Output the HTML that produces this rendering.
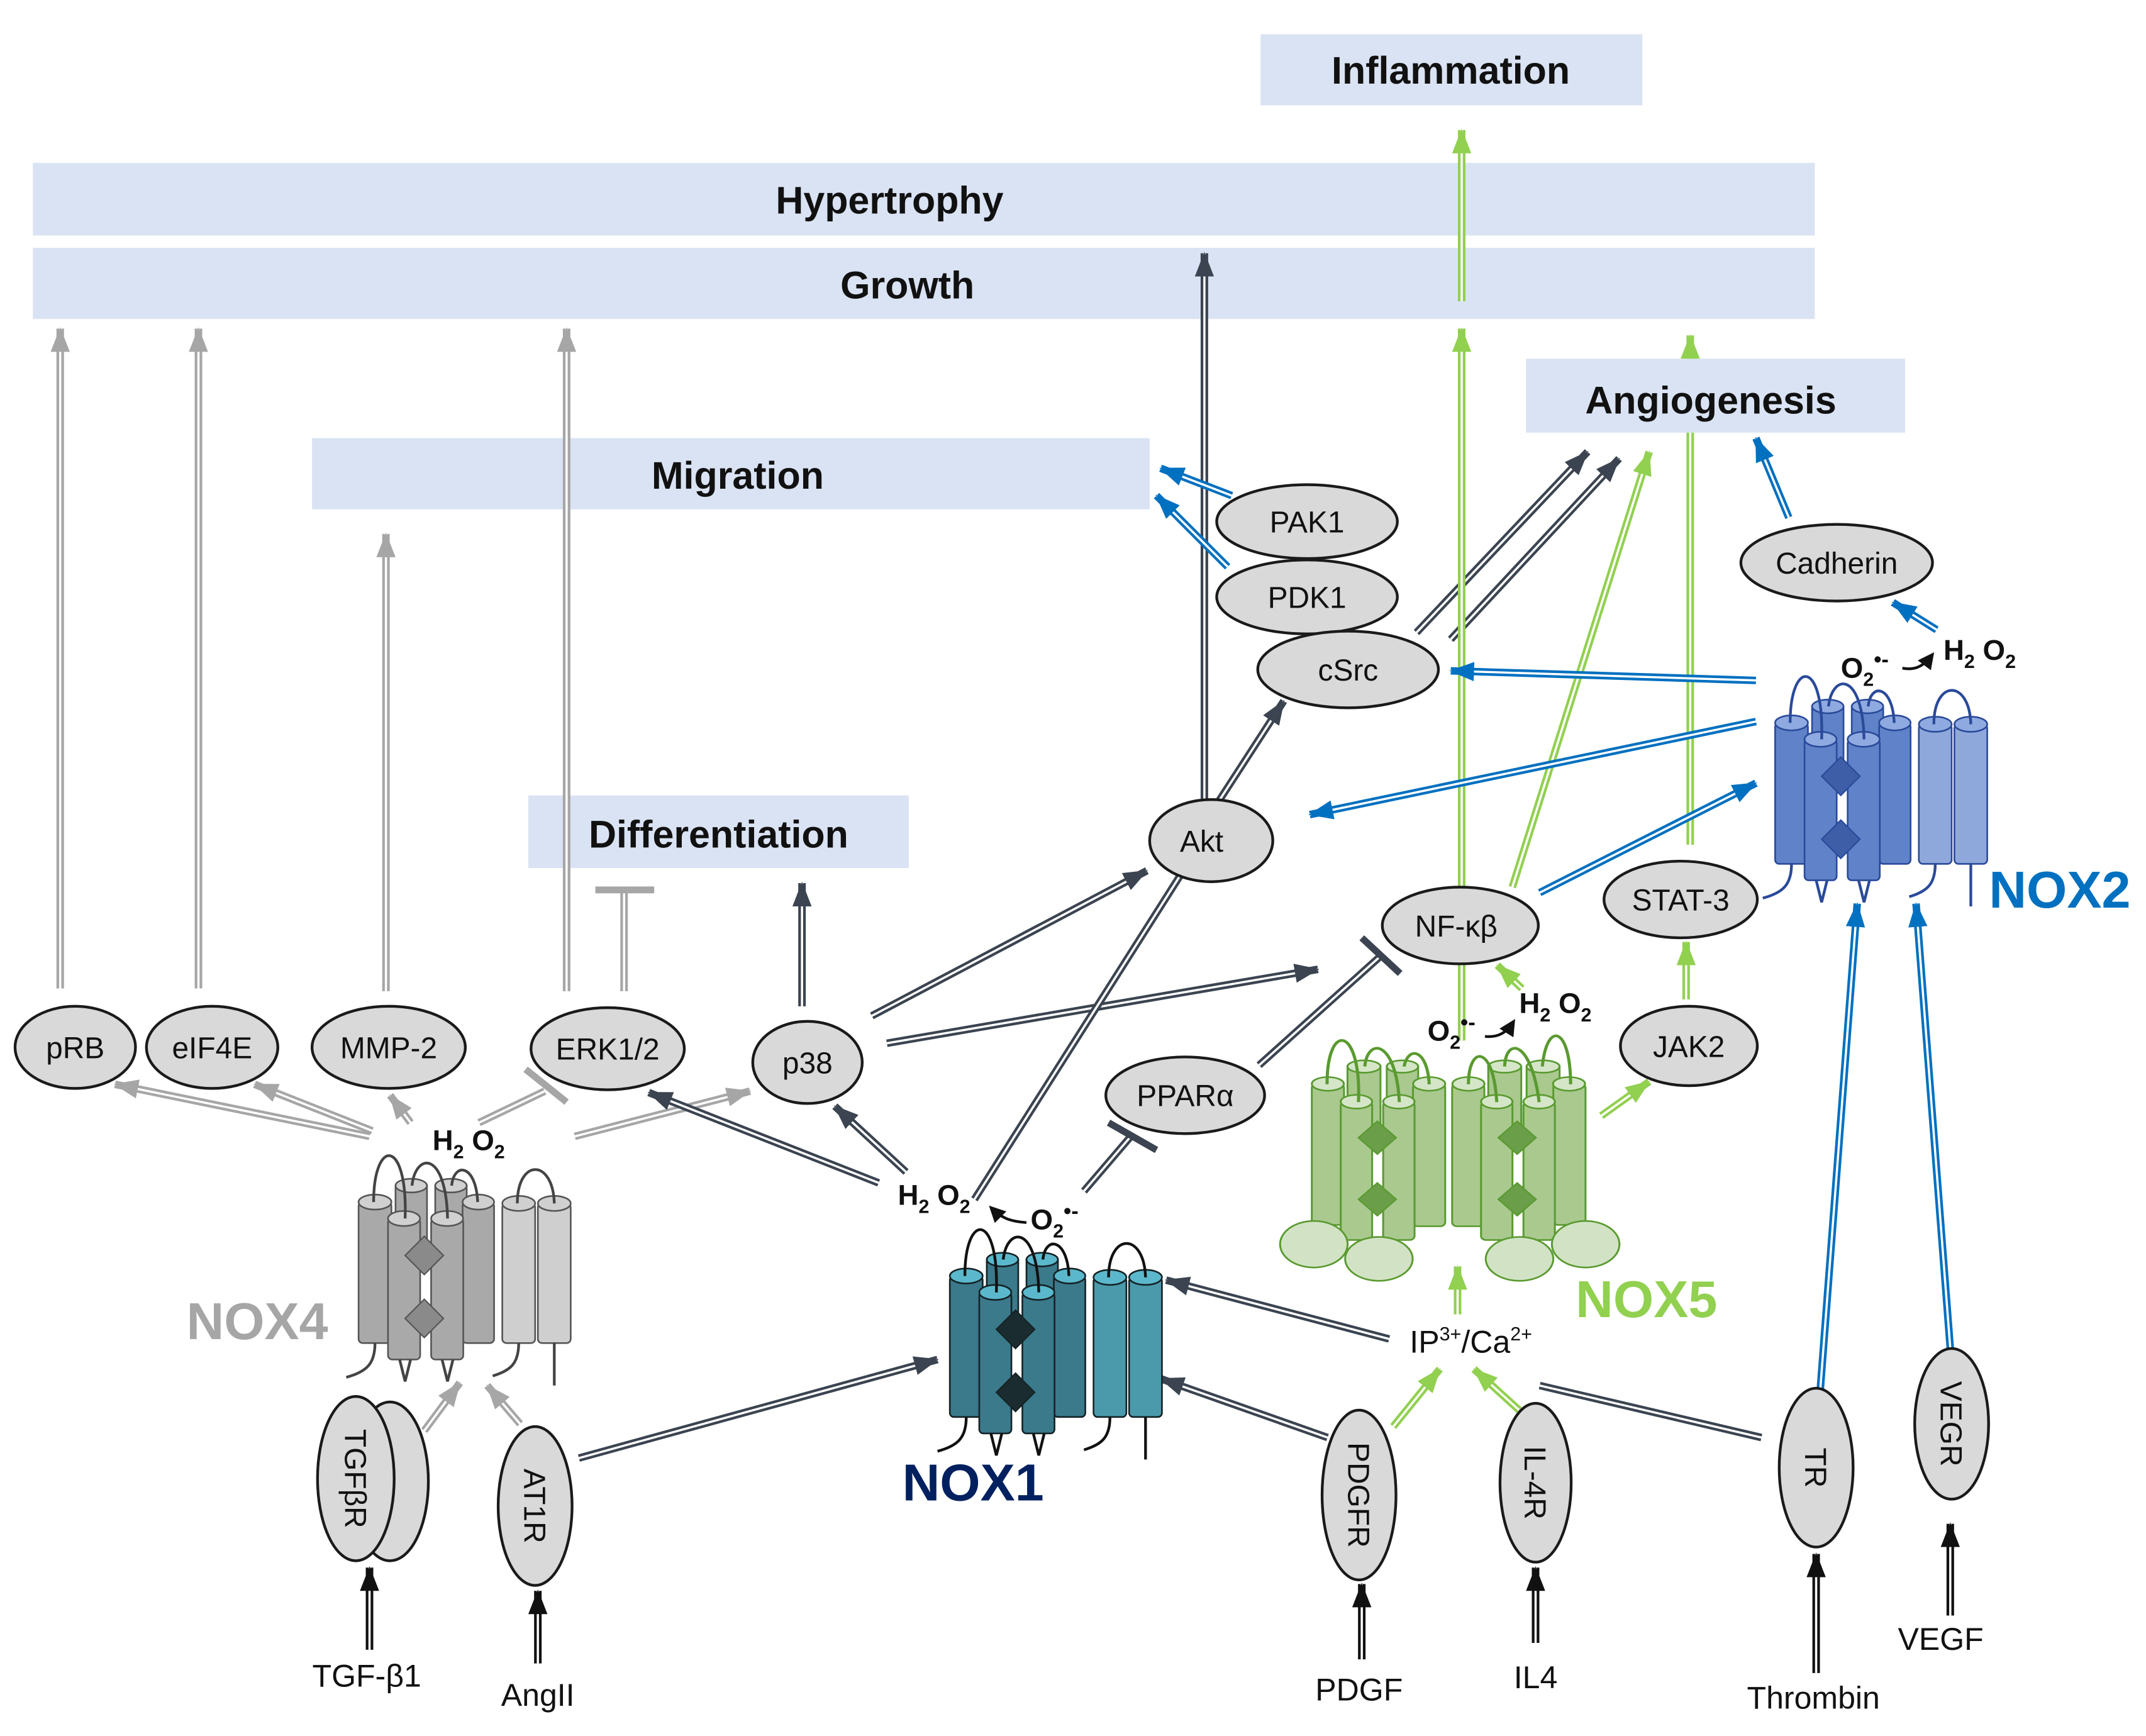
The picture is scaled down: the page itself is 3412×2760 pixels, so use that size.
<!DOCTYPE html>
<html><head><meta charset="utf-8"><style>
html,body{margin:0;padding:0;background:#fff}
svg{display:block}
text{font-family:"Liberation Sans",sans-serif}
.box{fill:#dae3f3}
.bt{font-weight:bold;font-size:28px;text-anchor:middle;fill:#111}
.el{fill:#d9d9d9;stroke:#1a1a1a;stroke-width:2}
.et{font-size:22px;text-anchor:middle;fill:#111}
.w{stroke:#fff;stroke-width:1.6;fill:none}
.gO{stroke:#a6a6a6;stroke-width:5.5;fill:none}
.dO{stroke:#3b4450;stroke-width:5.5;fill:none}
.nO{stroke:#92d050;stroke-width:5.5;fill:none}
.bO{stroke:#0070c0;stroke-width:5.5;fill:none}
.kO{stroke:#111;stroke-width:5.5;fill:none}
.lt{font-size:23px;text-anchor:middle;fill:#111}
.sm{font-size:21px;font-weight:bold;fill:#111}
.n4{--b:#a9a9a9;--b2:#cfcfcf;--t:#d0d0d0;--s:#555;--d:#8a8a8a;--l:#444}
.n1{--b:#3a7a8a;--b2:#4a9aab;--t:#5bb8cc;--s:#152226;--d:#1b2c31;--l:#111}
.n2{--b:#5f82c8;--b2:#8fa8dc;--t:#8faae0;--s:#2a4a9a;--d:#3e5fa8;--l:#2a4a9a}
.n5 rect,.n5 ellipse{fill:#a9c98f;stroke:#5a9a30;stroke-width:1.2}
.n5 .top{fill:#d5e6c8}
.n5 .bl{fill:#d2e3c5}
.n5 .dia{fill:#6a9e48;stroke:#5a9a30}
.n5 .loop{fill:none;stroke:#5a9a30;stroke-width:2}
</style></head><body>
<svg width="3412" height="2760" viewBox="0 0 1568 1268" preserveAspectRatio="none" xmlns="http://www.w3.org/2000/svg">
<defs>
<marker id="mg" markerUnits="userSpaceOnUse" markerWidth="18" markerHeight="16" refX="17" refY="8" orient="auto"><path d="M0,1 L18,8 L0,15 z" fill="#a6a6a6"/></marker>
<marker id="md" markerUnits="userSpaceOnUse" markerWidth="18" markerHeight="16" refX="17" refY="8" orient="auto"><path d="M0,1 L18,8 L0,15 z" fill="#3b4450"/></marker>
<marker id="mn" markerUnits="userSpaceOnUse" markerWidth="18" markerHeight="16" refX="17" refY="8" orient="auto"><path d="M0,1 L18,8 L0,15 z" fill="#92d050"/></marker>
<marker id="mb" markerUnits="userSpaceOnUse" markerWidth="18" markerHeight="16" refX="17" refY="8" orient="auto"><path d="M0,1 L18,8 L0,15 z" fill="#0070c0"/></marker>
<marker id="mk" markerUnits="userSpaceOnUse" markerWidth="18" markerHeight="16" refX="17" refY="8" orient="auto"><path d="M0,1 L18,8 L0,15 z" fill="#111"/></marker>
<marker id="mc" markerUnits="userSpaceOnUse" markerWidth="12" markerHeight="12" refX="10" refY="6" orient="auto"><path d="M0,0 L12,6 L0,12 z" fill="#111"/></marker>

<g id="noxbody">
  <g style="fill:var(--b);stroke:var(--s);stroke-width:1.2">
  <rect x="41" y="70" width="23" height="50"/><ellipse cx="52.5" cy="70" rx="11.5" ry="5" style="fill:var(--t)"/>
  <rect x="70" y="70" width="23" height="50"/><ellipse cx="81.5" cy="70" rx="11.5" ry="5" style="fill:var(--t)"/>
  <rect x="14" y="82" width="24" height="103" rx="3"/><ellipse cx="26" cy="82" rx="12" ry="5.5" style="fill:var(--t)"/>
  <rect x="90" y="82" width="23" height="103" rx="3"/><ellipse cx="101.5" cy="82" rx="11.5" ry="5.5" style="fill:var(--t)"/>
  <rect x="119" y="83" width="24" height="102" rx="3" style="fill:var(--b2)"/><ellipse cx="131" cy="83" rx="12" ry="5.5" style="fill:var(--t)"/>
  <rect x="145" y="83" width="24" height="102" rx="3" style="fill:var(--b2)"/><ellipse cx="157" cy="83" rx="12" ry="5.5" style="fill:var(--t)"/>
  <rect x="35.5" y="94" width="23.5" height="103" rx="3"/><ellipse cx="47.2" cy="94" rx="11.7" ry="5.5" style="fill:var(--t)"/>
  <rect x="67" y="94" width="23.5" height="103" rx="3"/><ellipse cx="78.7" cy="94" rx="11.7" ry="5.5" style="fill:var(--t)"/>
  </g>
  <path style="fill:var(--d);stroke:var(--s)" d="M62,107 L76,121 L62,135 L48,121 z M62,153 L76,167 L62,181 L48,167 z"/>
  <path style="fill:none;stroke:var(--l);stroke-width:2" d="M25,82 C25,35 50,35 48,94 M53,70 C56,45 78,45 79,94 M82,70 C84,52 100,55 101,82 M130,83 C130,50 156,50 157,83 M26,185 C26,200 20,206 5,210 M44,197 L48,213 L52,197 M75,197 L79,213 L83,197 M131,185 C131,200 125,205 112,209 M157,185 L157,216"/>
</g>
</defs>

<rect class="box" x="921" y="25" width="279" height="52"/>
<text class="bt" x="1060" y="61">Inflammation</text>
<rect class="box" x="24" y="119" width="1302" height="53"/>
<text class="bt" x="650" y="156">Hypertrophy</text>
<rect class="box" x="24" y="181" width="1302" height="52"/>
<text class="bt" x="663" y="218">Growth</text>
<rect class="box" x="228" y="320" width="612" height="52"/>
<text class="bt" x="539" y="357">Migration</text>
<rect class="box" x="1115" y="262" width="277" height="54"/>
<text class="bt" x="1250" y="302">Angiogenesis</text>
<rect class="box" x="386" y="581" width="278" height="53"/>
<text class="bt" x="525" y="619">Differentiation</text>

<path class="gO" d="M44,722 L44,240"/><path class="w" marker-end="url(#mg)" d="M44,722 L44,240"/>
<path class="gO" d="M145,722 L145,240"/><path class="w" marker-end="url(#mg)" d="M145,722 L145,240"/>
<path class="gO" d="M282,724 L282,390"/><path class="w" marker-end="url(#mg)" d="M282,724 L282,390"/>
<path class="gO" d="M414,724 L414,240"/><path class="w" marker-end="url(#mg)" d="M414,724 L414,240"/>
<path class="gO" d="M456,724 L456,652"/><path class="w" d="M456,724 L456,652"/>
<path d="M435,650 L478,650" stroke="#a6a6a6" stroke-width="5"/>
<path class="gO" d="M270,830 L84,792"/><path class="w" marker-end="url(#mg)" d="M270,830 L84,792"/>
<path class="gO" d="M272,826 L186,792"/><path class="w" marker-end="url(#mg)" d="M272,826 L186,792"/>
<path class="gO" d="M300,820 L285,800"/><path class="w" marker-end="url(#mg)" d="M300,820 L285,800"/>
<path class="gO" d="M350,820 L398,797"/><path class="w" d="M350,820 L398,797"/>
<path d="M384,781 L414,805" stroke="#a6a6a6" stroke-width="5"/>
<path class="gO" d="M420,830 L548,797"/><path class="w" marker-end="url(#mg)" d="M420,830 L548,797"/>
<path class="gO" d="M310,1045 L336,1010"/><path class="w" marker-end="url(#mg)" d="M310,1045 L336,1010"/>
<path class="gO" d="M380,1040 L356,1012"/><path class="w" marker-end="url(#mg)" d="M380,1040 L356,1012"/>

<path class="dO" d="M642,864 L474,798"/><path class="w" marker-end="url(#md)" d="M642,864 L474,798"/>
<path class="dO" d="M662,856 L610,808"/><path class="w" marker-end="url(#md)" d="M662,856 L610,808"/>
<path class="dO" d="M586,735 L586,645"/><path class="w" marker-end="url(#md)" d="M586,735 L586,645"/>
<path class="dO" d="M637,742 L838,636"/><path class="w" marker-end="url(#md)" d="M637,742 L838,636"/>
<path class="dO" d="M648,762 L963,708"/><path class="w" marker-end="url(#md)" d="M648,762 L963,708"/>
<path class="dO" d="M712,876 L862,640"/><path class="w" d="M712,876 L862,640"/>
<path class="dO" d="M890,586 L938,512"/><path class="w" marker-end="url(#md)" d="M890,586 L938,512"/>
<path class="dO" d="M880,586 L880,185"/><path class="w" marker-end="url(#md)" d="M880,586 L880,185"/>
<path class="dO" d="M792,870 L828,828"/><path class="w" d="M792,870 L828,828"/>
<path d="M810,820 L845,840" stroke="#3b4450" stroke-width="5"/>
<path class="dO" d="M920,778 L1008,699"/><path class="w" d="M920,778 L1008,699"/>
<path d="M995,685 L1023,711" stroke="#3b4450" stroke-width="5"/>
<path class="dO" d="M1035,462 L1160,330"/><path class="w" marker-end="url(#md)" d="M1035,462 L1160,330"/>
<path class="dO" d="M1060,467 L1183,335"/><path class="w" marker-end="url(#md)" d="M1060,467 L1183,335"/>
<path class="dO" d="M1015,978 L852,935"/><path class="w" marker-end="url(#md)" d="M1015,978 L852,935"/>
<path class="dO" d="M970,1050 L848,1007"/><path class="w" marker-end="url(#md)" d="M970,1050 L848,1007"/>
<path class="dO" d="M423,1065 L685,993"/><path class="w" marker-end="url(#md)" d="M423,1065 L685,993"/>
<path class="dO" d="M1287,1050 L1125,1012"/><path class="w" d="M1287,1050 L1125,1012"/>

<path class="nO" d="M1068,220 L1068,95"/><path class="w" marker-end="url(#mn)" d="M1068,220 L1068,95"/>
<path class="nO" d="M1068,760 L1068,240"/><path class="w" marker-end="url(#mn)" d="M1068,760 L1068,240"/>
<path class="nO" d="M1235,617 L1235,316"/><path class="w" d="M1235,617 L1235,316"/>
<path class="nO" d="M1235,262 L1235,245"/><path class="w" marker-end="url(#mn)" d="M1235,262 L1235,245"/>
<path class="nO" d="M1105,648 L1205,330"/><path class="w" marker-end="url(#mn)" d="M1105,648 L1205,330"/>
<path class="nO" d="M1112,722 L1094,705"/><path class="w" marker-end="url(#mn)" d="M1112,722 L1094,705"/>
<path class="nO" d="M1232,730 L1232,688"/><path class="w" marker-end="url(#mn)" d="M1232,730 L1232,688"/>
<path class="nO" d="M1170,815 L1205,790"/><path class="w" marker-end="url(#mn)" d="M1170,815 L1205,790"/>
<path class="nO" d="M1065,960 L1065,925"/><path class="w" marker-end="url(#mn)" d="M1065,960 L1065,925"/>
<path class="nO" d="M1018,1042 L1052,1000"/><path class="w" marker-end="url(#mn)" d="M1018,1042 L1052,1000"/>
<path class="nO" d="M1110,1030 L1077,1000"/><path class="w" marker-end="url(#mn)" d="M1110,1030 L1077,1000"/>

<path class="bO" d="M900,362 L848,342"/><path class="w" marker-end="url(#mb)" d="M900,362 L848,342"/>
<path class="bO" d="M897,414 L845,362"/><path class="w" marker-end="url(#mb)" d="M897,414 L845,362"/>
<path class="bO" d="M1283,497 L1060,490"/><path class="w" marker-end="url(#mb)" d="M1283,497 L1060,490"/>
<path class="bO" d="M1283,527 L957,595"/><path class="w" marker-end="url(#mb)" d="M1283,527 L957,595"/>
<path class="bO" d="M1125,652 L1283,572"/><path class="w" marker-end="url(#mb)" d="M1125,652 L1283,572"/>
<path class="bO" d="M1307,378 L1283,320"/><path class="w" marker-end="url(#mb)" d="M1307,378 L1283,320"/>
<path class="bO" d="M1415,460 L1383,440"/><path class="w" marker-end="url(#mb)" d="M1415,460 L1383,440"/>
<path class="bO" d="M1330,1015 L1357,660"/><path class="w" marker-end="url(#mb)" d="M1330,1015 L1357,660"/>
<path class="bO" d="M1425,985 L1400,660"/><path class="w" marker-end="url(#mb)" d="M1425,985 L1400,660"/>

<path class="kO" d="M270,1205 L270,1145"/><path class="w" marker-end="url(#mk)" d="M270,1205 L270,1145"/>
<path class="kO" d="M393,1215 L393,1162"/><path class="w" marker-end="url(#mk)" d="M393,1215 L393,1162"/>
<path class="kO" d="M995,1212 L995,1157"/><path class="w" marker-end="url(#mk)" d="M995,1212 L995,1157"/>
<path class="kO" d="M1122,1200 L1122,1145"/><path class="w" marker-end="url(#mk)" d="M1122,1200 L1122,1145"/>
<path class="kO" d="M1327,1222 L1327,1135"/><path class="w" marker-end="url(#mk)" d="M1327,1222 L1327,1135"/>
<path class="kO" d="M1425,1180 L1425,1113"/><path class="w" marker-end="url(#mk)" d="M1425,1180 L1425,1113"/>

<ellipse class="el" cx="55" cy="765" rx="44" ry="30"/><text class="et" x="55" y="773">pRB</text>
<ellipse class="el" cx="155" cy="765" rx="48" ry="30"/><text class="et" x="155" y="773">eIF4E</text>
<ellipse class="el" cx="284" cy="765" rx="56" ry="30"/><text class="et" x="284" y="773">MMP-2</text>
<ellipse class="el" cx="444" cy="766" rx="56" ry="30"/><text class="et" x="444" y="774">ERK1/2</text>
<ellipse class="el" cx="590" cy="776" rx="40" ry="30"/><text class="et" x="590" y="784">p38</text>
<ellipse class="el" cx="866" cy="800" rx="58" ry="28"/><text class="et" x="866" y="808">PPARα</text>
<ellipse class="el" cx="885" cy="614" rx="45" ry="30"/><text class="et" x="878" y="622">Akt</text>
<ellipse class="el" cx="955" cy="381" rx="66" ry="27"/><text class="et" x="955" y="389">PAK1</text>
<ellipse class="el" cx="955" cy="436" rx="66" ry="27"/><text class="et" x="955" y="444">PDK1</text>
<ellipse class="el" cx="985" cy="489" rx="66" ry="28"/><text class="et" x="985" y="497">cSrc</text>
<ellipse class="el" cx="1067" cy="676" rx="57" ry="28"/><text class="et" x="1064" y="684">NF-κβ</text>
<ellipse class="el" cx="1228" cy="657" rx="56" ry="28"/><text class="et" x="1228" y="665">STAT-3</text>
<ellipse class="el" cx="1234" cy="764" rx="50" ry="29"/><text class="et" x="1234" y="772">JAK2</text>
<ellipse class="el" cx="1342" cy="411" rx="70" ry="28"/><text class="et" x="1342" y="419">Cadherin</text>

<ellipse class="el" cx="285" cy="1082" rx="28" ry="58"/>
<ellipse class="el" cx="260" cy="1080" rx="28" ry="60"/>
<text class="et" transform="translate(252,1080) rotate(90)">TGFβR</text>
<ellipse class="el" cx="391" cy="1100" rx="27" ry="58"/>
<text class="et" transform="translate(383,1100) rotate(90)">AT1R</text>
<ellipse class="el" cx="993" cy="1092" rx="27" ry="62"/>
<text class="et" transform="translate(985,1092) rotate(90)">PDGFR</text>
<ellipse class="el" cx="1122" cy="1083" rx="26" ry="58"/>
<text class="et" transform="translate(1114,1083) rotate(90)">IL-4R</text>
<ellipse class="el" cx="1327" cy="1072" rx="27" ry="58"/>
<text class="et" transform="translate(1319,1072) rotate(90)">TR</text>
<ellipse class="el" cx="1426" cy="1040" rx="27" ry="55"/>
<text class="et" transform="translate(1418,1040) rotate(90)">VEGR</text>

<text class="lt" x="268" y="1232">TGF-β1</text>
<text class="lt" x="393" y="1246">AngII</text>
<text class="lt" x="993" y="1242">PDGF</text>
<text class="lt" x="1122" y="1233">IL4</text>
<text class="lt" x="1325" y="1248">Thrombin</text>
<text class="lt" x="1418" y="1205">VEGF</text>
<text class="lt" x="1030" y="988" style="text-anchor:start">IP<tspan font-size="14" dy="-9">3+</tspan><tspan dy="9">/Ca</tspan><tspan font-size="14" dy="-9">2+</tspan></text>

<g transform="translate(248,796)" class="n4"><use href="#noxbody"/></g>
<text x="188" y="978" font-size="38" font-weight="bold" fill="#a6a6a6" text-anchor="middle">NOX4</text>
<text class="sm" x="316" y="840">H<tspan font-size="14" dy="6">2</tspan><tspan dy="-6"> O</tspan><tspan font-size="14" dy="6">2</tspan></text>

<g transform="translate(680,850)" class="n1"><use href="#noxbody"/></g>
<text x="711" y="1096" font-size="38" font-weight="bold" fill="#002060" text-anchor="middle">NOX1</text>
<text class="sm" x="656" y="880">H<tspan font-size="14" dy="6">2</tspan><tspan dy="-6"> O</tspan><tspan font-size="14" dy="6">2</tspan></text>
<text class="sm" x="753" y="898">O<tspan font-size="14" dy="6">2</tspan><tspan dy="-14" font-size="16">•-</tspan></text>
<path d="M750,893 C738,892 732,890 724,882" fill="none" stroke="#111" stroke-width="2" marker-end="url(#mc)"/>

<g transform="translate(1283,446)" class="n2"><use href="#noxbody"/></g>
<text x="1505" y="663" font-size="38" font-weight="bold" fill="#0070c0" text-anchor="middle">NOX2</text>
<text class="sm" x="1345" y="495">O<tspan font-size="14" dy="6">2</tspan><tspan dy="-14" font-size="16">•-</tspan></text>
<path d="M1390,488 C1400,490 1406,486 1412,478" fill="none" stroke="#111" stroke-width="2" marker-end="url(#mc)"/>
<text class="sm" x="1420" y="482">H<tspan font-size="14" dy="6">2</tspan><tspan dy="-6"> O</tspan><tspan font-size="14" dy="6">2</tspan></text>

<g transform="translate(928.3,735) scale(1.148,1)" class="n5">
<rect x="49" y="44" width="21" height="60"/><ellipse class="top" cx="59.5" cy="44" rx="10.5" ry="4.5"/>
<rect x="74" y="44" width="20" height="60"/><ellipse class="top" cx="84" cy="44" rx="10" ry="4.5"/>
<rect x="138.6" y="44" width="21" height="60"/><ellipse class="top" cx="149" cy="44" rx="10.5" ry="4.5"/>
<rect x="163" y="44" width="21" height="60"/><ellipse class="top" cx="173.5" cy="44" rx="10.5" ry="4.5"/>
<rect x="26.3" y="56.7" width="20.5" height="103" rx="3"/><ellipse class="top" cx="36.5" cy="56.7" rx="10.2" ry="5"/>
<rect x="90.7" y="56.7" width="20.5" height="104" rx="3"/><ellipse class="top" cx="101" cy="56.7" rx="10.2" ry="5"/>
<rect x="115.6" y="56.7" width="20.5" height="104" rx="3"/><ellipse class="top" cx="126" cy="56.7" rx="10.2" ry="5"/>
<rect x="180" y="56.7" width="20.5" height="103" rx="3"/><ellipse class="top" cx="190" cy="56.7" rx="10.2" ry="5"/>
<rect x="44.7" y="69.7" width="20" height="101" rx="3"/><ellipse class="top" cx="54.7" cy="69.7" rx="10" ry="5"/>
<rect x="71.7" y="69.7" width="20" height="101" rx="3"/><ellipse class="top" cx="81.7" cy="69.7" rx="10" ry="5"/>
<rect x="134" y="69.7" width="20" height="101" rx="3"/><ellipse class="top" cx="144" cy="69.7" rx="10" ry="5"/>
<rect x="161" y="69.7" width="20" height="101" rx="3"/><ellipse class="top" cx="171" cy="69.7" rx="10" ry="5"/>
<path class="dia" d="M68,84 L80,96 L68,108 L56,96 z M68,129 L80,141 L68,153 L56,141 z M157,84 L169,96 L157,108 L145,96 z M157,129 L169,141 L157,153 L145,141 z"/>
<path class="loop" d="M36,57 C36,10 58,15 56,70 M60,44 C62,22 80,25 82,70 M85,44 C88,28 100,32 101,57 M126,57 C126,28 142,28 144,70 M149,44 C150,22 166,25 171,70 M173,44 C176,10 191,15 191,57"/>
<ellipse class="bl" cx="27.6" cy="173.8" rx="21.5" ry="17"/>
<ellipse class="bl" cx="69" cy="184.5" rx="21.5" ry="16"/>
<ellipse class="bl" cx="158.5" cy="184.5" rx="21.5" ry="16"/>
<ellipse class="bl" cx="200.6" cy="173.8" rx="21.5" ry="17"/>
</g>
<text x="1203" y="962" font-size="38" font-weight="bold" fill="#92d050" text-anchor="middle">NOX5</text>
<text class="sm" x="1043" y="760">O<tspan font-size="14" dy="6">2</tspan><tspan dy="-14" font-size="16">•-</tspan></text>
<path d="M1085,757 C1095,758 1101,754 1106,746" fill="none" stroke="#111" stroke-width="2" marker-end="url(#mc)"/>
<text class="sm" x="1110" y="740">H<tspan font-size="14" dy="6">2</tspan><tspan dy="-6"> O</tspan><tspan font-size="14" dy="6">2</tspan></text>
</svg>
</body></html>
